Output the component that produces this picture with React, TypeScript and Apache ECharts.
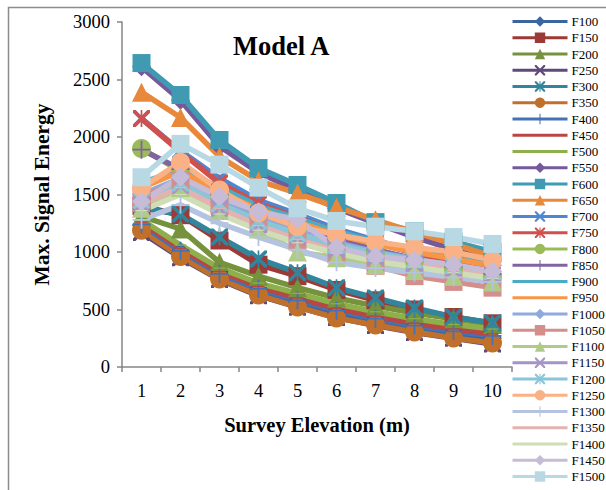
import React, { useEffect, useRef } from "react";
import * as echarts from "echarts";

const categories = ["1", "2", "3", "4", "5", "6", "7", "8", "9", "10"];
const yTicks = [0, 500, 1000, 1500, 2000, 2500, 3000];

const F100 = [1230, 1000, 800, 660, 560, 470, 400, 340, 290, 250];
const F150 = [1400, 1320, 1100, 890, 790, 670, 580, 500, 435, 380];
const F200 = [1310, 1200, 910, 790, 690, 600, 530, 470, 420, 370];
const F250 = [1170, 950, 760, 620, 520, 430, 360, 300, 250, 200];
const F300 = [1380, 1330, 1130, 940, 820, 690, 600, 513, 435, 383];
const F350 = [1190, 960, 765, 626, 522, 426, 365, 304, 252, 209];
const F400 = [1240, 1010, 810, 680, 580, 490, 420, 360, 310, 270];
const F450 = [1260, 1030, 830, 700, 600, 510, 440, 380, 330, 290];
const F500 = [1280, 1060, 860, 730, 640, 550, 480, 420, 370, 330];
const F550 = [2610, 2320, 1920, 1690, 1540, 1380, 1250, 1130, 1020, 920];
const F600 = [2643, 2365, 1974, 1730, 1583, 1426, 1260, 1180, 1090, 1000];
const F650 = [2390, 2170, 1830, 1620, 1510, 1390, 1280, 1170, 1070, 960];
const F700 = [2160, 1880, 1640, 1450, 1330, 1200, 1100, 1010, 930, 860];
const F750 = [2160, 1870, 1600, 1420, 1300, 1180, 1080, 990, 910, 850];
const F800 = [1900, 1700, 1480, 1320, 1200, 1090, 1000, 920, 850, 790];
const F850 = [1890, 1720, 1500, 1340, 1230, 1110, 1020, 940, 870, 810];
const F900 = [1600, 1720, 1560, 1400, 1290, 1180, 1090, 1020, 960, 900];
const F950 = [1560, 1700, 1520, 1370, 1260, 1150, 1070, 1000, 940, 880];
const F1000 = [1500, 1640, 1440, 1290, 1180, 1080, 1000, 940, 880, 830];
const F1050 = [1480, 1620, 1400, 1250, 1100, 980, 880, 790, 740, 690];
const F1100 = [1380, 1560, 1360, 1200, 1000, 950, 890, 840, 790, 740];
const F1150 = [1420, 1580, 1380, 1240, 1130, 1030, 960, 900, 850, 800];
const F1200 = [1450, 1600, 1420, 1270, 1160, 1060, 990, 930, 880, 830];
const F1250 = [1560, 1780, 1540, 1340, 1220, 1150, 1090, 1040, 1000, 930];
const F1300 = [1280, 1410, 1250, 1130, 1020, 910, 860, 820, 780, 740];
const F1350 = [1420, 1560, 1380, 1230, 1110, 1010, 940, 890, 840, 790];
const F1400 = [1360, 1500, 1330, 1190, 1080, 990, 920, 870, 820, 770];
const F1450 = [1440, 1650, 1480, 1350, 1280, 1040, 960, 930, 890, 830];
const F1500 = [1650, 1940, 1760, 1560, 1380, 1270, 1220, 1180, 1130, 1070];

const seriesNames = [
  "F100", "F150", "F200", "F250", "F300", "F350", "F400", "F450", "F500", "F550",
  "F600", "F650", "F700", "F750", "F800", "F850", "F900", "F950", "F1000", "F1050",
  "F1100", "F1150", "F1200", "F1250", "F1300", "F1350", "F1400", "F1450", "F1500",
];
const seriesValues = [
  F100, F150, F200, F250, F300, F350, F400, F450, F500, F550,
  F600, F650, F700, F750, F800, F850, F900, F950, F1000, F1050,
  F1100, F1150, F1200, F1250, F1300, F1350, F1400, F1450, F1500,
];
const seriesColors = [
  "#3A66A0", "#9B3A37", "#76923C", "#5F497A", "#31859C", "#C0702B", "#4473B5", "#B84744", "#8DB04C", "#75599A",
  "#3F9AB2", "#E8883A", "#4F86D0", "#D0504D", "#9BBB59", "#8064A2", "#4BACC6", "#F79646", "#8FAADC", "#D48E8C",
  "#AFCB85", "#A694C4", "#8AC6D8", "#F9B185", "#B4C3E0", "#E3B3B2", "#CFDEB6", "#C6BCD8", "#B8D9E4",
];

const X_PATH = "path://M0,0 L3,0 L10,7 L17,0 L20,0 L20,3 L13,10 L20,17 L20,20 L17,20 L10,13 L3,20 L0,20 L0,17 L7,10 L0,3 Z";
const STAR_PATH = "path://M0,0 L3,0 L9,6 L9,0 L11,0 L11,6 L17,0 L20,0 L20,3 L13,10 L20,17 L20,20 L17,20 L11,14 L11,20 L9,20 L9,14 L3,20 L0,20 L0,17 L7,10 L0,3 Z";
const PLUS_PATH = "path://M9,0 L11,0 L11,9 L20,9 L20,11 L11,11 L11,20 L9,20 L9,11 L0,11 L0,9 L9,9 Z";
const DASH_PATH = "path://M0,0 L0,0 M0,9 L20,9 L20,11 L0,11 Z M20,20 L20,20";
const markerCycle = ["diamond", "rect", "triangle", X_PATH, STAR_PATH, "circle", PLUS_PATH, DASH_PATH, DASH_PATH];
const markerSizes = [19, 18, 19, 17, 17, 19, 18, 12, 12];

export default function App() {
  const ref = useRef<HTMLDivElement>(null);
  useEffect(() => {
    if (!ref.current) return;
    const chart = echarts.init(ref.current, null, { renderer: "svg" });
    const font = "Liberation Serif";
    const series = seriesNames.map((name, i) => ({
      name,
      type: "line",
      data: seriesValues[i],
      symbol: markerCycle[i % 9],
      symbolSize: markerSizes[i % 9],
      showSymbol: true,
      lineStyle: { width: 5.5, color: seriesColors[i] },
      itemStyle: { color: seriesColors[i] },
      emphasis: { disabled: true },
    }));
    chart.setOption({
      animation: false,
      textStyle: { fontFamily: font },
      grid: { left: 122, top: 22, width: 390, height: 345, containLabel: false },
      xAxis: {
        type: "category",
        data: categories,
        boundaryGap: true,
        name: "Survey Elevation (m)",
        nameLocation: "middle",
        nameGap: 47,
        nameTextStyle: { fontFamily: font, fontSize: 20.5, fontWeight: "bold", color: "#000" },
        axisLine: { lineStyle: { color: "#868686", width: 1.5 } },
        axisTick: { show: true, length: 5, alignWithLabel: false, lineStyle: { color: "#868686", width: 1.5 } },
        axisLabel: { fontFamily: font, fontSize: 18.5, color: "#000", margin: 14 },
        splitLine: { show: false },
      },
      yAxis: {
        type: "value",
        min: yTicks[0],
        max: yTicks[yTicks.length - 1],
        interval: 500,
        name: "Max. Signal Energy",
        nameLocation: "middle",
        nameGap: 69,
        nameRotate: 90,
        nameTextStyle: { fontFamily: font, fontSize: 21.5, fontWeight: "bold", color: "#000" },
        axisLine: { show: true, lineStyle: { color: "#868686", width: 1.5 } },
        axisTick: { show: true, length: 5, lineStyle: { color: "#868686", width: 1.5 } },
        axisLabel: {
          fontFamily: font,
          fontSize: 18.5,
          color: "#000",
          margin: 12,
          formatter: (v: number) => String(v),
        },
        splitLine: { show: false },
      },
      legend: {
        orient: "vertical",
        left: 511,
        top: 15,
        itemWidth: 55,
        itemHeight: 13,
        itemGap: 3.25,
        padding: 0,
        data: seriesNames,
        selectedMode: false,
        lineStyle: { width: 3 },
        textStyle: { fontFamily: font, fontSize: 13, color: "#000", padding: [0, 0, 0, -1] },
      },
      graphic: [
        {
          type: "rect",
          shape: { x: 8.5, y: 7.5, width: 700, height: 600 },
          style: { fill: "none", stroke: "#8c8c8c", lineWidth: 1.5 },
          silent: true,
          z: -1,
        },
        {
          type: "text",
          left: 233,
          top: 32,
          style: { text: "Model A", fontFamily: font, fontSize: 26.5, fontWeight: "bold", fill: "#000" },
          silent: true,
        },
      ],
      series,
    });
    return () => chart.dispose();
  }, []);
  return (
    <div
      ref={ref}
      style={{ position: "fixed", left: 0, top: 0, width: 606, height: 490, background: "#fff" }}
    />
  );
}
